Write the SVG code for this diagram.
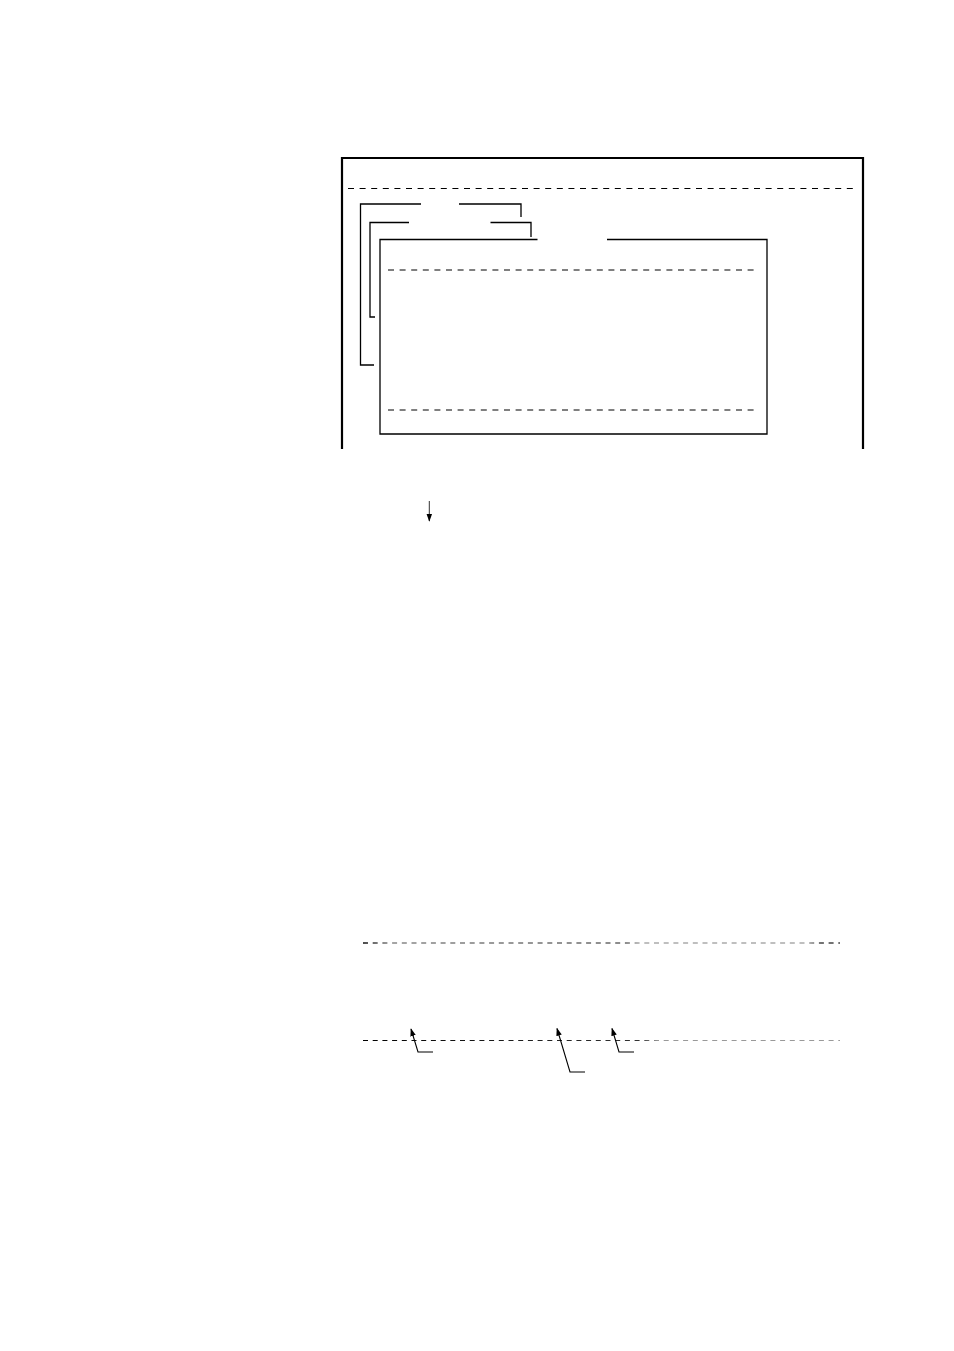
<svg xmlns="http://www.w3.org/2000/svg" width="954" height="1351" viewBox="0 0 954 1351">
<style>
.ln{fill:none;stroke:#000;stroke-width:1.3}
.frame{fill:none;stroke:#000;stroke-width:2.2}
.dash{fill:none;stroke:#000;stroke-width:1.2;stroke-dasharray:6 5.6}
.ldr{fill:none;stroke:#000;stroke-width:1.1}
</style>
<defs>
<marker id="ah" viewBox="0 0 10 10" refX="9" refY="5" markerWidth="8" markerHeight="8" orient="auto" markerUnits="userSpaceOnUse">
<path d="M0,1.5 L10,5 L0,8.5 Z" fill="#000"/>
</marker>
<linearGradient id="g1" x1="363" y1="0" x2="840" y2="0" gradientUnits="userSpaceOnUse">
<stop offset="0" stop-color="#111"/>
<stop offset="0.06" stop-color="#888"/>
<stop offset="0.55" stop-color="#666"/>
<stop offset="0.58" stop-color="#aaa"/>
<stop offset="0.93" stop-color="#aaa"/>
<stop offset="0.96" stop-color="#444"/>
<stop offset="1" stop-color="#444"/>
</linearGradient>
<linearGradient id="g2" x1="363" y1="0" x2="840" y2="0" gradientUnits="userSpaceOnUse">
<stop offset="0" stop-color="#000"/>
<stop offset="0.58" stop-color="#333"/>
<stop offset="0.62" stop-color="#999"/>
<stop offset="1" stop-color="#999"/>
</linearGradient>
</defs>
<g id="outer-frame">
<path class="frame" d="M342,449 V158 H863 V449"/>
<line class="dash" x1="348" y1="188.5" x2="856" y2="188.5"/>
</g>
<g id="inner-box">
<path class="ln" d="M537.5,239.5 H380 V434 H767 V239.5 H607"/>
<line class="dash" x1="388" y1="270" x2="758" y2="270"/>
<line class="dash" x1="388" y1="410" x2="758" y2="410"/>
</g>
<g id="connectors">
<path class="ln" d="M421,204 H360.5 V365 H374"/>
<path class="ln" d="M459,204 H521 V217"/>
<path class="ln" d="M409,222.5 H370 V317 H375"/>
<path class="ln" d="M490.5,222.5 H531 V237"/>
<line x1="429.3" y1="501" x2="429.3" y2="521" stroke="#333" stroke-width="1" marker-end="url(#ah)"/>
<line x1="363" y1="943" x2="840" y2="943" stroke="url(#g1)" stroke-width="1.3" stroke-dasharray="5 4.7"/>
<line x1="363" y1="1040.5" x2="840" y2="1040.5" stroke="url(#g2)" stroke-width="1.2" stroke-dasharray="5 4.7"/>
<path class="ldr" d="M433,1052 H418 L411,1029" marker-end="url(#ah)"/>
<path class="ldr" d="M585,1072 H570 L557,1028.5" marker-end="url(#ah)"/>
<path class="ldr" d="M634,1052 H619 L612,1028.5" marker-end="url(#ah)"/>
</g>
</svg>
